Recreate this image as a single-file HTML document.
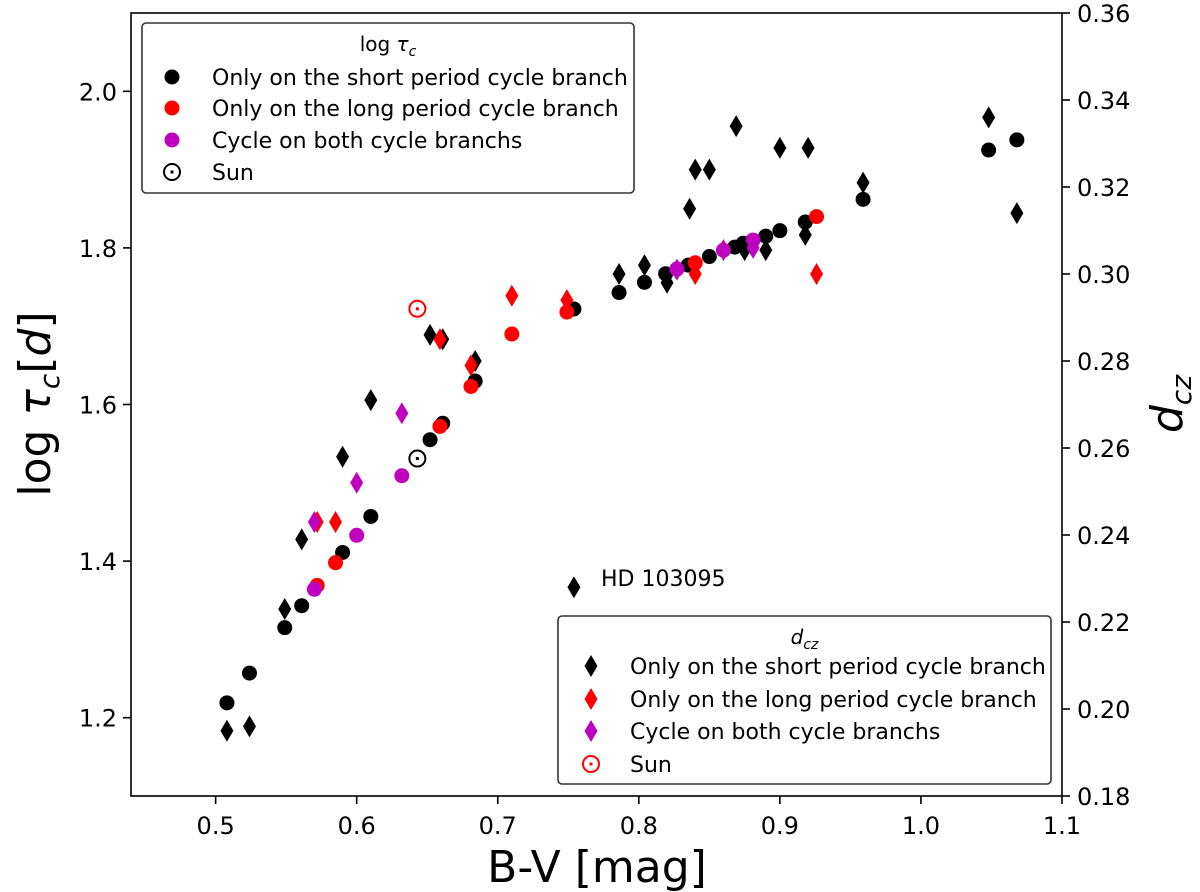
<!DOCTYPE html>
<html><head><meta charset="utf-8"><style>
body{margin:0;background:#fff;}
svg{display:block;font-family:"DejaVu Sans","Liberation Sans",sans-serif;}
</style></head><body>
<svg id="chart" width="1200" height="892" viewBox="0 0 1200 892" xmlns="http://www.w3.org/2000/svg">
<rect x="0" y="0" width="1200" height="892" fill="#fff"/>
<g id="marks"></g>
<rect x="131" y="13" width="931" height="783" fill="none" stroke="#000" stroke-width="1.6"/>
<g id="axes"></g>
<text x="597" y="882" font-size="44" text-anchor="middle">B-V [mag]</text>
<text transform="translate(50,404) rotate(-90)" font-size="44" text-anchor="middle">log  <tspan font-style="italic">τ</tspan><tspan font-style="italic" font-size="28" dy="9">c</tspan><tspan dy="-9">[</tspan><tspan font-style="italic">d</tspan>]</text>
<text transform="translate(1182,404) rotate(-90)" font-size="44" text-anchor="middle" font-style="italic">d<tspan font-size="28" dy="9">cz</tspan></text>
<text x="601" y="586" font-size="22">HD 103095</text>
<g id="legend1"></g>
<g id="legend2"></g>
</svg>
<script>
const xTicks=[0.5,0.6,0.7,0.8,0.9,1.0,1.1];
const xTickLabels=["0.5","0.6","0.7","0.8","0.9","1.0","1.1"];
const yLeftTicks=[1.2,1.4,1.6,1.8,2.0];
const yLeftTickLabels=["1.2","1.4","1.6","1.8","2.0"];
const yRightTicks=[0.18,0.20,0.22,0.24,0.26,0.28,0.30,0.32,0.34,0.36];
const yRightTickLabels=["0.18","0.20","0.22","0.24","0.26","0.28","0.30","0.32","0.34","0.36"];
const tauBlack=[[0.508,1.219],[0.524,1.257],[0.549,1.315],[0.561,1.343],[0.590,1.411],[0.610,1.457],[0.652,1.555],[0.661,1.576],[0.684,1.630],[0.754,1.722],[0.786,1.743],[0.804,1.756],[0.819,1.767],[0.835,1.778],[0.850,1.789],[0.868,1.801],[0.874,1.806],[0.890,1.815],[0.900,1.822],[0.918,1.833],[0.959,1.862],[1.048,1.925],[1.068,1.938]];
const tauRed=[[0.572,1.369],[0.585,1.398],[0.659,1.572],[0.681,1.623],[0.710,1.690],[0.749,1.718],[0.840,1.781],[0.926,1.840]];
const tauMagenta=[[0.570,1.364],[0.600,1.433],[0.632,1.509],[0.827,1.773],[0.860,1.797],[0.881,1.810]];
const tauSun=[[0.643,1.531]];
const dczBlack=[[0.508,0.195],[0.524,0.196],[0.549,0.223],[0.561,0.239],[0.590,0.258],[0.610,0.271],[0.652,0.286],[0.661,0.285],[0.684,0.280],[0.754,0.228],[0.786,0.300],[0.804,0.302],[0.820,0.298],[0.836,0.315],[0.840,0.324],[0.850,0.324],[0.869,0.334],[0.875,0.3055],[0.890,0.3055],[0.900,0.329],[0.918,0.309],[0.920,0.329],[0.959,0.321],[1.048,0.336],[1.068,0.314]];
const dczRed=[[0.572,0.243],[0.585,0.243],[0.659,0.285],[0.681,0.279],[0.710,0.295],[0.749,0.294],[0.840,0.300],[0.926,0.300]];
const dczMagenta=[[0.570,0.243],[0.600,0.252],[0.632,0.268],[0.827,0.301],[0.860,0.3055],[0.881,0.306]];
const dczSun=[[0.643,0.292]];

const NS="http://www.w3.org/2000/svg";
const L=131,R=1062,T=13,B=796;
const xS=v=>L+(v-0.44)/(1.1-0.44)*(R-L);
const yL=v=>B-(v-1.1)/(2.1-1.1)*(B-T);
const yR=v=>B-(v-0.18)/(0.36-0.18)*(B-T);
function mk(tag,attrs,parent){const e=document.createElementNS(NS,tag);for(const k in attrs)e.setAttribute(k,attrs[k]);parent.appendChild(e);return e;}
const C={black:"#000",red:"#ff0000",magenta:"#bf00bf"};
function circle(g,x,y,col){return mk("circle",{cx:x,cy:y,r:7.5,fill:col},g);}
function diamond(g,x,y,col){return mk("polygon",{points:`${x},${y-11} ${x+6.5},${y} ${x},${y+11} ${x-6.5},${y}`,fill:col},g);}
function sun(g,x,y,col){const s=mk("g",{},g);mk("circle",{cx:x,cy:y,r:8,fill:"none",stroke:col,"stroke-width":2},s);mk("rect",{x:x-1.5,y:y-1.5,width:3,height:3,fill:col},s);return s;}

const marks=document.getElementById("marks");
tauBlack.forEach(d=>{const e=circle(marks,xS(d[0]),yL(d[1]),C.black);

});
tauRed.forEach(d=>{const e=circle(marks,xS(d[0]),yL(d[1]),C.red);

});
tauMagenta.forEach(d=>{const e=circle(marks,xS(d[0]),yL(d[1]),C.magenta);

});
tauSun.forEach(d=>{const e=sun(marks,xS(d[0]),yL(d[1]),C.black);

});
dczBlack.forEach(d=>{const e=diamond(marks,xS(d[0]),yR(d[1]),C.black);

});
dczRed.forEach(d=>{const e=diamond(marks,xS(d[0]),yR(d[1]),C.red);

});
dczMagenta.forEach(d=>{const e=diamond(marks,xS(d[0]),yR(d[1]),C.magenta);

});
dczSun.forEach(d=>{const e=sun(marks,xS(d[0]),yR(d[1]),C.red);

});

const axes=document.getElementById("axes");
xTicks.forEach((v,i)=>{const x=xS(v);mk("line",{x1:x,y1:B,x2:x,y2:B+8,stroke:"#000","stroke-width":1.6},axes);
const t=mk("text",{x:x,y:B+38,"font-size":24,"text-anchor":"middle"},axes);t.textContent=xTickLabels[i];

});
yLeftTicks.forEach((v,i)=>{const y=yL(v);mk("line",{x1:L-8,y1:y,x2:L,y2:y,stroke:"#000","stroke-width":1.6},axes);
const t=mk("text",{x:L-14,y:y+9,"font-size":24,"text-anchor":"end"},axes);t.textContent=yLeftTickLabels[i];

});
yRightTicks.forEach((v,i)=>{const y=yR(v);mk("line",{x1:R,y1:y,x2:R+8,y2:y,stroke:"#000","stroke-width":1.6},axes);
const t=mk("text",{x:R+15,y:y+9,"font-size":24,"text-anchor":"start"},axes);t.textContent=yRightTickLabels[i];

});

const labels=["Only on the short period cycle branch","Only on the long period cycle branch","Cycle on both cycle branchs","Sun"];
function legend(g,x0,y0,w,h,titleHTML,mx,tx,ys,kind){
mk("rect",{x:x0,y:y0,width:w,height:h,rx:4,fill:"#fff","fill-opacity":0.85,stroke:"#333","stroke-width":1.6},g);
const t=mk("text",{x:x0+w/2,y:y0+28,"font-size":20,"text-anchor":"middle"},g);t.innerHTML=titleHTML;


const cols=[C.black,C.red,C.magenta];
ys.forEach((y,i)=>{let m;
if(i<3)m=kind==="c"?circle(g,mx,y,cols[i]):diamond(g,mx,y,cols[i]);else m=sun(g,mx,y,kind==="c"?C.black:C.red);


const tt=mk("text",{x:tx,y:y+8,"font-size":22},g);tt.textContent=labels[i];

});}
legend(document.getElementById("legend1"),142,23,492,170,'log  <tspan font-style="italic">τ</tspan><tspan font-style="italic" font-size="14" dy="5">c</tspan>',172,212,[77,108,140,172],"c");
legend(document.getElementById("legend2"),558,616,493,168,'<tspan font-style="italic">d</tspan><tspan font-style="italic" font-size="14" dy="5">cz</tspan>',591,630,[666,699,731,764],"d");
</script>
</body></html>
